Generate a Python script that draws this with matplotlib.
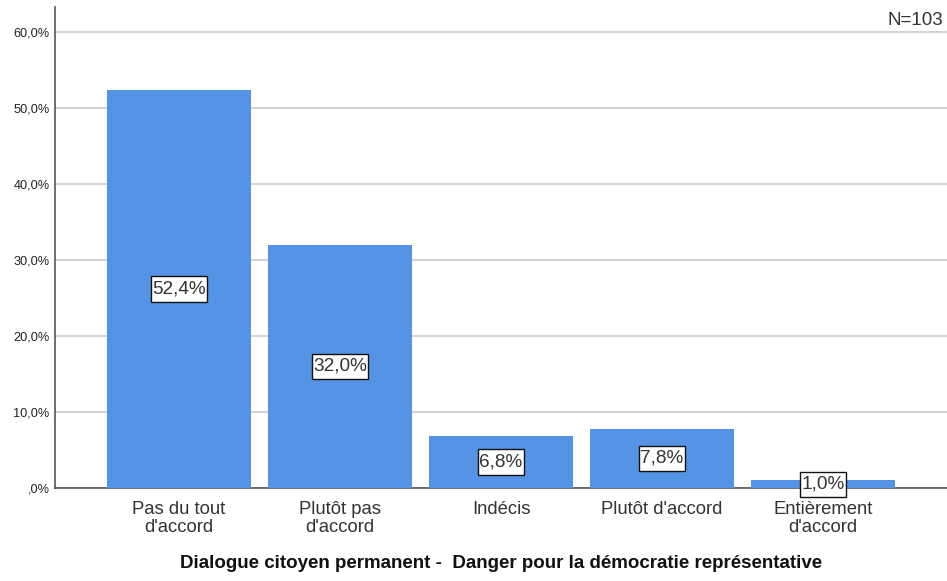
import matplotlib
matplotlib.use("Agg")
import matplotlib.pyplot as plt
from matplotlib.path import Path
import numpy as np

categories = ["Pas du tout\nd'accord", "Plutôt pas\nd'accord", "Indécis", "Plutôt d'accord", "Entièrement\nd'accord"]
values = [52.4, 32.0, 6.8, 7.8, 1.0]
yticks = [0, 10, 20, 30, 40, 50, 60]
ytick_labels = [",0%", "10,0%", "20,0%", "30,0%", "40,0%", "50,0%", "60,0%"]
xlabel = "Dialogue citoyen permanent -  Danger pour la démocratie représentative"
n_label = "N=103"

plt.rcParams['font.family'] = ['Liberation Sans', 'DejaVu Sans']


def label_box(x0, y0, width, height, mutation_size):
    px = 0.08 * mutation_size
    py = 0.22 * mutation_size
    return Path([(x0 - px, y0 - py), (x0 + width + px, y0 - py),
                 (x0 + width + px, y0 + height + py), (x0 - px, y0 + height + py),
                 (x0 - px, y0 - py)], closed=True)


fig = plt.figure(figsize=(9.47, 5.81), dpi=100)
ax = fig.add_axes([55/947, 1 - 488/581, 1 - 55/947, (488 - 7)/581])

x = np.arange(len(categories))
ax.bar(x, values, width=0.894, color="#5594E4", zorder=3)
for xi, v in zip(x, values):
    lbl = f"{v:.1f}%".replace(".", ",")
    ax.text(xi, v / 2, lbl, ha="center", va="center", fontsize=13.7, color="#333333",
            zorder=4, bbox=dict(boxstyle=label_box, facecolor="white", edgecolor="#111111", linewidth=1))

ax.set_xlim(-0.77, 4.77)
ax.set_ylim(0, 63.3)
ax.set_yticks(yticks)
ax.set_yticklabels(ytick_labels, fontsize=9.2, color="#222222")
ax.set_xticks(x)
ax.set_xticklabels(categories, fontsize=13.3, color="#333333", linespacing=1.1)
ax.tick_params(axis="both", length=0, pad=4)
ax.tick_params(axis="x", pad=9)
ax.yaxis.grid(True, color="#cfcfcf", linewidth=1.3, zorder=0)
ax.set_axisbelow(True)
for s in ["top", "right"]:
    ax.spines[s].set_visible(False)
ax.spines["left"].set_color("#555555")
ax.spines["bottom"].set_color("#555555")
ax.spines["left"].set_linewidth(1.2)
ax.spines["bottom"].set_linewidth(1.2)

ax.set_xlabel(xlabel, fontsize=13.5, fontweight="bold", color="#111111", labelpad=14)
ax.text(0.996, 0.99, n_label, transform=ax.transAxes, ha="right", va="top", fontsize=13.5, color="#333333")

fig.savefig("out.png", dpi=100)
